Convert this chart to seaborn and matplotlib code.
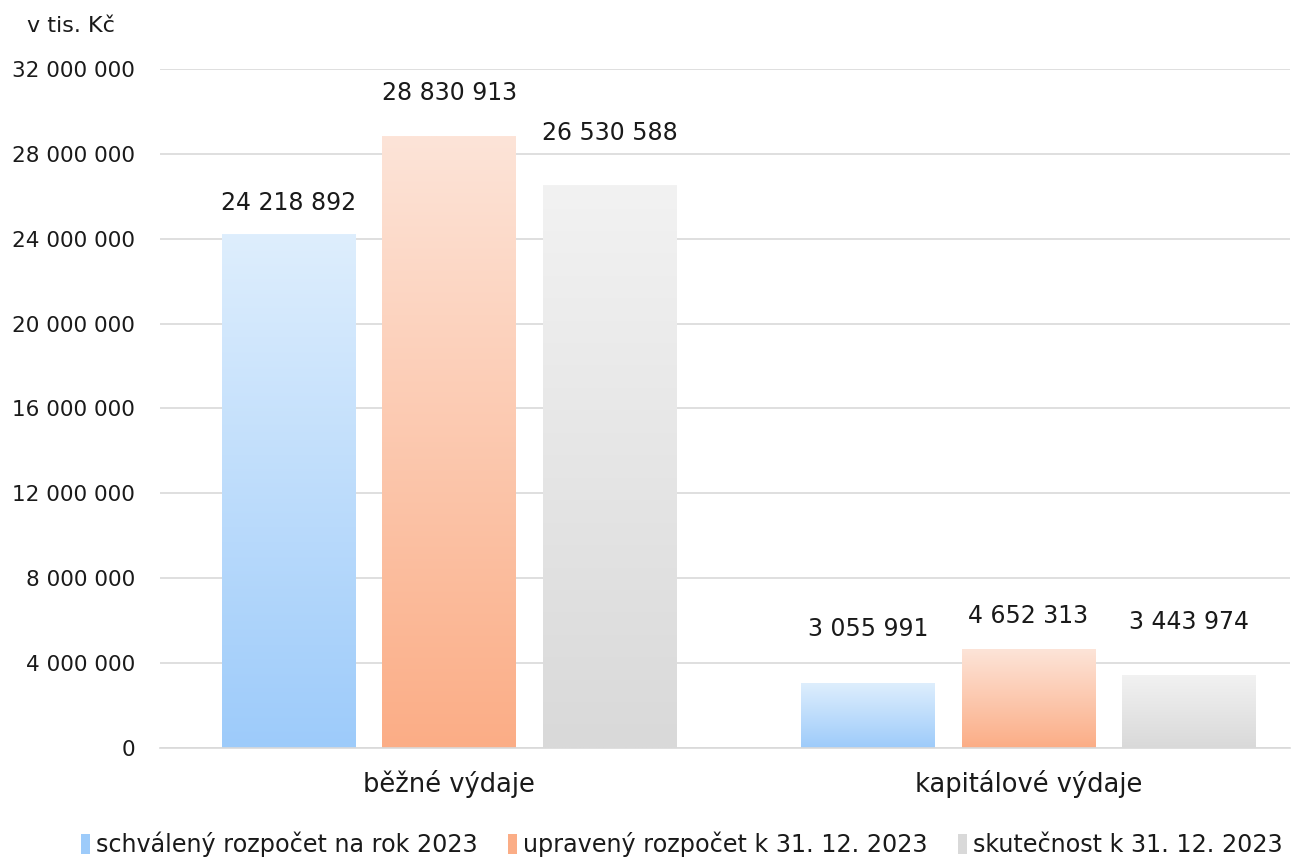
import numpy as np
import pandas as pd
import matplotlib
matplotlib.use("Agg")
import matplotlib.pyplot as plt
import seaborn as sns
from matplotlib.colors import LinearSegmentedColormap
from matplotlib.patches import Patch
from matplotlib.ticker import FuncFormatter

# --- data ---
categories = ["běžné výdaje", "kapitálové výdaje"]
series = ["schválený rozpočet na rok 2023",
          "upravený rozpočet k 31. 12. 2023",
          "skutečnost k 31. 12. 2023"]
schvaleny = [24218892, 3055991]
upraveny = [28830913, 4652313]
skutecnost = [26530588, 3443974]
y_ticks = [0, 4000000, 8000000, 12000000, 16000000, 20000000, 24000000, 28000000, 32000000]

# gradient colours (top, bottom) per series
grad_colors = [("#deeefd", "#9dcbfa"), ("#fde4d8", "#fbad86"), ("#f2f2f2", "#d9d9d9")]
# label offsets above bar top (px), as in the original
label_pad = [[31, 54], [43, 33], [52, 53]]

df = pd.DataFrame({
    "kategorie": categories * 3,
    "serie": [series[0]] * 2 + [series[1]] * 2 + [series[2]] * 2,
    "hodnota": schvaleny + upraveny + skutecnost,
})

sns.set_style("white")
plt.rcParams["font.family"] = ["DejaVu Sans"]

fig = plt.figure(figsize=(13.06, 8.57), dpi=100)
ax = fig.add_axes([0.1225, 0.1272, 0.8655, 0.7923])

sns.barplot(data=df, x="kategorie", y="hodnota", hue="serie", hue_order=series,
            order=categories, width=0.83, gap=0.167, ax=ax, legend=False,
            palette=[c[1] for c in grad_colors], edgecolor="none")

ax.set_ylim(0, 32000000)
ax.set_yticks(y_ticks)
ax.yaxis.set_major_formatter(FuncFormatter(lambda v, p: f"{int(v):,}".replace(",", " ")))
ax.grid(axis="y", color="#d9d9d9", linewidth=1.2)
ax.set_axisbelow(True)
for s in ["top", "right", "left"]:
    ax.spines[s].set_visible(False)
ax.spines["bottom"].set_color("#d9d9d9")
ax.spines["bottom"].set_linewidth(1.2)
ax.tick_params(axis="y", length=0, pad=18, labelsize=15.5, labelcolor="#1a1a1a")
ax.tick_params(axis="x", length=0, pad=16, labelsize=18.5, labelcolor="#1a1a1a")
ax.set_xlabel("")
ax.set_ylabel("")

# gradient fill for each bar + value labels
values = [schvaleny, upraveny, skutecnost]
bars = [p for p in ax.patches if p.get_height() > 0]
grad = np.linspace(0, 1, 256).reshape(-1, 1)
for i, p in enumerate(bars):
    si, ci = divmod(i, 2)
    top, bottom = grad_colors[si]
    cmap = LinearSegmentedColormap.from_list("g", [top, bottom])
    x0, w, h = p.get_x(), p.get_width(), p.get_height()
    im = ax.imshow(grad, cmap=cmap, aspect="auto", extent=[x0, x0 + w, 0, h],
                   origin="upper", zorder=2)
    im.set_clip_path(p)
    p.set_facecolor("none")
    ax.annotate(f"{values[si][ci]:,}".replace(",", " "), xy=(x0 + w / 2, h),
                xytext=(0, label_pad[si][ci] * 0.72), textcoords="offset points",
                ha="center", va="center", fontsize=17, color="#1a1a1a")

ax.set_xlim(-0.499, 1.452)

fig.text(0.021, 0.970, "v tis. Kč", fontsize=16, color="#1a1a1a", va="center")

handles = [Patch(facecolor=c[1], edgecolor="none") for c in grad_colors]
fig.legend(handles, series, loc="center", bbox_to_anchor=(0.522, 0.015), ncol=3,
           frameon=False, fontsize=17.2, handlelength=0.35, handleheight=0.9,
           handletextpad=0.25, columnspacing=1.3, labelcolor="#1a1a1a")

fig.savefig("out.png", dpi=100)
